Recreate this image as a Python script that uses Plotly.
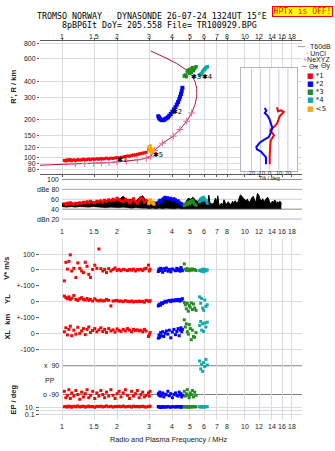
import math
import plotly.graph_objects as go

# ---------------- data ----------------
freq_ticks = [1, 1.5, 2, 3, 4, 5, 6, 7, 8, 10, 12, 14, 16, 18]
freq_labels = ["1", "1.5", "2", "3", "4", "5", "6", "7", "8", "10", "12", "14", "16", "18"]
height_ticks = [80, 90, 100, 120, 150, 200, 300, 400, 600, 800]

# NeXYZ plasma-frequency profile (MHz, km)
ne_f = [0.758, 1.0, 1.182, 1.331, 1.490, 1.640, 1.806, 1.998, 2.246, 2.579, 2.888, 3.052, 3.21,
        3.55, 4.058, 4.413, 4.801, 5.113, 5.332, 5.447, 5.45, 5.447, 5.332, 5.113, 4.801, 4.234, 3.654, 3.052]
ne_h = [87.0, 89.0, 89.3, 89.8, 90.2, 90.9, 91.4, 92.6, 93.6, 95.9, 98.7, 101.8, 114.0,
        130.0, 147.7, 166.4, 193.5, 224.7, 260.9, 303.4, 327.0, 352.3, 397.5, 447.4, 489.7, 552.3, 615.2, 694.0]
ne_marked = slice(2, 18)

# echo *1 (red)
red_f = [1.03, 1.05, 1.07, 1.09, 1.11, 1.13, 1.16, 1.19, 1.22, 1.25,
         1.28, 1.31, 1.34, 1.37, 1.40, 1.43, 1.47, 1.51, 1.55, 1.59,
         1.63, 1.67, 1.71, 1.75, 1.80, 1.85, 1.90, 1.95, 2.00, 2.05,
         2.10, 2.16, 2.22, 2.28, 2.34, 2.40, 2.46, 2.52, 2.58, 2.64,
         2.70, 2.76, 2.82, 2.88, 2.97, 3.00, 3.03]
red_h = [95, 94, 96, 95, 96.5, 94.5, 96, 95, 96.5, 95.5,
         96, 97, 96, 96.5, 97.5, 96, 97.5, 97, 98, 97,
         98.5, 97.5, 98, 99, 98, 99, 98.5, 99.5, 100, 99,
         100.5, 101, 102, 103, 102.5, 104, 105, 104.5, 106, 107,
         107.5, 108.5, 109, 110, 116, 121, 118]
red_amp = [51, 49, 52, 50, 53, 51, 50, 52, 51, 53,
           52, 54, 53, 55, 53, 56, 54, 53, 56, 55,
           57, 54, 58, 56, 59, 57, 60, 58, 62, 59,
           57, 55, 60, 58, 53, 57, 61, 55, 52, 58,
           63, 60, 54, 58, 55, 52, 56]
red_vs = [-69, 48, 5, 54, 95, -7, 10, -48, 44, 10,
          -7, -17, 48, 23, -28, -48, 3, 30, 10, 132,
          8, -7, 3, -17, 8, -7, 3, 12, -3, 3,
          -5, 4, 0, -4, 3, -2, 5, -7, 2, 0,
          4, -3, 6, 10, 30, -7, 5]
red_yl = [35, 25, 18, 30, 14, 22, 39, 14, 8, 18,
          25, 14, 10, 20, 8, 14, 4, 18, 8, 4,
          10, 4, 6, 14, 8, -27, 4, 6, 8, 2,
          4, 0, 6, 2, 0, 4, -2, 2, 0, 4,
          0, 2, -4, 8, 4, 0, 6]
red_xl = [10, 35, -10, 25, 45, -15, 20, -5, 38, 0,
          15, 30, -8, 25, 40, 5, 18, 30, 10, 22,
          35, 12, 25, 5, 30, 15, 22, 8, 28, 18,
          12, 25, 15, 30, 20, 10, 25, 18, 22, 15,
          20, 10, 25, 15, -20, -10, 5]
red_pp = [-70, -110, -95, -60, -115, -80, -100, -65, -90, -120,
          -75, -105, -85, -60, -110, -95, -70, -115, -80, -100,
          -65, -90, -110, -75, -100, -60, -95, -115, -85, -70,
          -105, -80, -60, -95, -115, -70, -100, -85, -65, -110,
          -90, -75, -105, -95, -80, -100, -70]
red_ep = [12, 15, 10, 18, 14, 9, 16, 12, 20, 11,
          14, 17, 10, 13, 19, 12, 15, 9, 16, 13,
          18, 11, 14, 20, 12, 16, 10, 15, 13, 17,
          12, 19, 11, 14, 16, 10, 18, 13, 15, 11,
          14, 17, 12, 10, 15, 13, 18]

# echo *2 (blue)
blue_f = [3.36, 3.39, 3.42, 3.46, 3.50, 3.55, 3.60, 3.66, 3.72, 3.79, 3.86,
          3.93, 4.01, 4.09, 4.17, 4.24, 4.31, 4.37, 4.42, 4.47, 4.51, 4.55]
blue_h = [212, 207, 203, 200, 198, 197, 198, 201, 204, 208, 214,
          221, 230, 240, 250, 262, 274, 288, 302, 318, 334, 355]
blue_amp = [52, 55, 58, 56, 55, 60, 62, 64, 61, 63, 60,
            62, 58, 61, 59, 55, 57, 54, 52, 50, 51, 49]
blue_vs = [-10, 5, -5, 10, 0, -15, 8, -3, 12, -8, 3,
           -12, 6, 0, -5, 10, -3, 5, -8, 15, 2, -5]
blue_yl = [-27, -20, -15, -22, -8, -12, -5, 2, -3, 5, 8,
           0, 10, 4, 12, 6, 14, 8, 3, 15, 10, 18]
blue_xl = [-30, -10, -25, 5, -15, 10, -20, 0, 15, -5, 20,
           -28, 8, 25, -8, 12, 30, -15, 20, 35, 10, 25]
blue_pp = [-85, -95, -75, -100, -90, -80, -105, -88, -92, -70, -98,
           -85, -110, -90, -80, -95, -100, -75, -90, -85, -105, -95]
blue_ep = [14, 10, 12, 8, 11, 13, 9, 12, 10, 14, 11,
           9, 13, 12, 10, 15, 11, 13, 12, 9, 14, 11]

# echo *3 (green)
green_f = [4.66, 4.72, 4.78, 4.84, 4.90, 4.96, 5.02, 5.09, 5.16, 5.23, 5.31, 5.40]
green_h = [440, 448, 435, 476, 490, 462, 498, 470, 512, 485, 505, 521]
green_amp = [47, 50, 52, 49, 54, 51, 56, 53, 58, 55, 50, 48]
green_vs = [38, 5, -3, 8, 0, -5, 4, -2, 6, 0, 3, -4]
green_yl = [-5, -20, -45, -10, -60, -25, -35, -8, -50, -15, -40, -55]
green_xl = [85, 40, 60, 10, -5, 55, 30, -40, 20, -20, -25, 5]
green_pp = [-70, -100, -85, -60, -95, -110, -80, -90, -65, -105, -75, -95]
green_ep = [12, 10, 14, 11, 9, 13, 12, 10, 15, 11, 13, 12]

# echo *4 (teal)
teal_f = [5.65, 5.73, 5.80, 5.87, 5.95, 6.03, 6.12, 6.22]
teal_h = [446, 453, 461, 476, 490, 499, 511, 521]
teal_amp = [55, 60, 62, 58, 64, 60, 57, 52]
teal_vs = [-5, 0, -8, 5, -12, 3, -6, 0]
teal_yl = [30, -10, 20, -40, -55, 10, -30, -20]
teal_xl = [50, 75, 20, 60, 12, 65, 40, 70]
teal_pp = [120, 70, 100, 55, 110, 85, 130, 95]
teal_ep = [13, 9, 15, 11, 12, 10, 14, 12]

# echo <5 (orange)
orange_f = [2.98, 3.00, 3.02, 3.04, 3.06, 3.09, 3.12, 3.15, 3.18]
orange_h = [116, 121, 113, 124, 118, 110, 115, 111, 112]
orange_amp = [51, 54, 57, 59, 56, 55, 53, 52, 50]

# receiver amplitude envelope (black)
amp_f = [1.00, 1.06, 1.12, 1.18, 1.25, 1.32, 1.40, 1.48, 1.56, 1.65,
         1.74, 1.84, 1.94, 2.05, 2.16, 2.28, 2.40, 2.52, 2.64, 2.76,
         2.88, 3.00, 3.12, 3.25, 3.40, 3.55, 3.70, 3.85, 4.00, 4.15,
         4.30, 4.45, 4.60, 4.75, 4.90, 5.05, 5.20, 5.35, 5.50, 5.65,
         5.80, 5.95, 6.10, 6.25, 6.35, 6.42, 6.50, 6.60, 6.70, 6.80,
         6.90, 7.00, 7.10, 7.20, 7.30, 7.42, 7.55, 7.68, 7.80, 7.95,
         8.10, 8.25, 8.40, 8.55, 8.70, 8.85, 9.00, 9.15, 9.30, 9.45,
         9.60, 9.75, 9.90, 10.1, 10.3, 10.5, 10.7, 10.9, 11.1, 11.3,
         11.5, 11.7, 11.9, 12.1, 12.3, 12.5, 12.7, 12.9, 13.1, 13.3,
         13.5, 13.7, 13.9, 14.1, 14.3, 14.5, 14.7, 14.9, 15.1, 15.3,
         15.5, 15.7, 15.8]
amp_top = [52, 50, 53, 51, 54, 52, 55, 53, 54, 56,
           55, 57, 56, 59, 66, 58, 60, 55, 63, 67,
           57, 52, 55, 54, 56, 60, 62, 58, 61, 57,
           56, 50, 47, 55, 62, 60, 64, 58, 56, 60,
           64, 62, 60, 50, 68, 55, 49, 52, 47, 56,
           62, 54, 67, 50, 47, 52, 48, 59, 53, 50,
           55, 51, 49, 56, 53, 57, 52, 55, 62, 69,
           66, 63, 61, 57, 60, 54, 56, 63, 66, 58,
           55, 72, 68, 60, 57, 61, 55, 58, 63, 64,
           59, 52, 51, 56, 53, 58, 57, 50, 55, 52,
           56, 54, 50]
amp_bot = [45, 44, 45, 44, 45, 44, 44, 45, 44, 44,
           43, 44, 43, 43, 44, 43, 42, 43, 42, 42,
           42, 41, 42, 41, 42, 41, 42, 41, 41, 41,
           42, 41, 41, 40, 41, 40, 41, 40, 41, 40,
           41, 40, 41, 41, 40, 41, 40, 41, 40, 41,
           41, 40, 41, 40, 41, 40, 41, 41, 40, 41,
           40, 41, 41, 40, 41, 40, 41, 40, 41, 41,
           40, 41, 40, 41, 40, 41, 41, 40, 41, 40,
           41, 40, 41, 41, 40, 41, 40, 41, 40, 41,
           41, 40, 41, 40, 41, 40, 41, 41, 40, 41,
           40, 41, 41]

# tilt inset
tilt_red_t = [8.0, 9.1, 12.7, 15.4, 11.0, 9.9, 8.4, 6.2, 3.6, 1.1, 0.7, 2.9, 4.7, 3.3, 1.1, 0.7, 0.3, 0.0, 0.0]
tilt_red_v = [62, 58.1, 59, 57.4, 53.2, 50, 46.8, 44.1, 41.9, 40.3, 38.7, 37.1, 34.8, 32.2, 29.6, 25.8, 20.9, 14.5, 6.4]
tilt_blue_t = [-5.5, -3.7, -5.5, -2.6, 0, 1.8, 2.9, 1.1, -1.1, -5.5, -11, -14.7, -14, -9.6, -6.6, -4.1, -4.1, -4.1]
tilt_blue_v = [61.3, 58.7, 56.4, 54.2, 50, 45.1, 41.9, 37.1, 32.9, 30.6, 27.4, 23.2, 20.9, 18.7, 16.1, 13.2, 9.3, 6.4]
tilt_ticks = [-20, -10, 0, 10, 20]
tilt_range = [-31.2, 30]
tilt_vrange = [0, 100]

# echo labels (frequency MHz, height km, text)
echo_labels = [(2.02, 96, "1"), (4.04, 229, "2"), (5.13, 429, "3"), (5.89, 429, "4"), (3.18, 105.5, "5")]

amp_lines = [100, 80, 60, 40, 20]
amp_line_labels = ["100", "dBe 80", "60", "40", "dBn 20"]

# ---------------- layout helpers ----------------
W, H = 335, 451
def px(x): return x / W
def py(y): return 1 - y / H

FR = [math.log10(0.758), math.log10(20.5)]
XD = [px(40), px(302)]
def fpaper(f):
    return XD[0] + (math.log10(f) - FR[0]) / (FR[1] - FR[0]) * (XD[1] - XD[0])

RED, BLUE, GREEN, TEAL, ORANGE = "#ff0000", "#0000ff", "#228b22", "#10a8a8", "#ffa500"
FRAME = "#5c5c5c"
GRID = "#dadae2"
SANS = "Liberation Sans, Arial, sans-serif"
TICKF = dict(family=SANS, size=7, color="#222222")

fig = go.Figure()

def sq(x, y, col, xa, ya, size=3):
    fig.add_trace(go.Scatter(x=x, y=y, mode="markers", xaxis=xa, yaxis=ya, cliponaxis=False,
                             marker=dict(symbol="square", size=size, color=col, line=dict(width=0)),
                             hoverinfo="skip"))

# ---- height panel (x, y2)
fig.add_trace(go.Scatter(x=ne_f, y=ne_h, mode="lines", xaxis="x", yaxis="y2",
                         line=dict(color="#b0183c", width=1), hoverinfo="skip"))
fig.add_trace(go.Scatter(x=ne_f[ne_marked], y=ne_h[ne_marked], mode="markers", xaxis="x", yaxis="y2",
                         marker=dict(symbol="cross-thin", size=5, line=dict(width=1, color="#e36a98")),
                         hoverinfo="skip"))
sq(red_f, red_h, RED, "x", "y2", 3)
sq(orange_f, orange_h, ORANGE, "x", "y2", 3)
sq(blue_f, blue_h, BLUE, "x", "y2", 4)
sq(green_f, green_h, GREEN, "x", "y2", 3.5)
sq(teal_f, teal_h, TEAL, "x", "y2", 3.5)

# ---- amplitude panel (x2, y3)
fig.add_trace(go.Scatter(x=amp_f, y=amp_bot, mode="lines", xaxis="x2", yaxis="y3",
                         line=dict(color="black", width=0.5), hoverinfo="skip"))
fig.add_trace(go.Scatter(x=amp_f, y=amp_top, mode="lines", xaxis="x2", yaxis="y3", fill="tonexty",
                         fillcolor="black", line=dict(color="black", width=1), hoverinfo="skip"))
for f, a, c in [(red_f, red_amp, RED), (orange_f, orange_amp, ORANGE), (blue_f, blue_amp, BLUE),
                (green_f, green_amp, GREEN), (teal_f, teal_amp, TEAL)]:
    fig.add_trace(go.Scatter(x=f, y=a, mode="lines+markers", xaxis="x2", yaxis="y3",
                             line=dict(color=c, width=1.5),
                             marker=dict(symbol="square", size=3, color=c), hoverinfo="skip"))

# ---- lower panel (x3, y5..y9)
for f, vs, yl, xl, pp, ep, c in [
        (red_f, red_vs, red_yl, red_xl, red_pp, red_ep, RED),
        (blue_f, blue_vs, blue_yl, blue_xl, blue_pp, blue_ep, BLUE),
        (green_f, green_vs, green_yl, green_xl, green_pp, green_ep, GREEN),
        (teal_f, teal_vs, teal_yl, teal_xl, teal_pp, teal_ep, TEAL)]:
    sq(f, vs, c, "x3", "y5")
    sq(f, yl, c, "x3", "y6")
    sq(f, xl, c, "x3", "y7")
    sq(f, pp, c, "x3", "y8")
    sq(f, ep, c, "x3", "y9")

# ---- tilt inset (x4, y10): white background, own grid, curves
fig.add_trace(go.Scatter(x=[tilt_range[0], tilt_range[1], tilt_range[1], tilt_range[0], tilt_range[0]],
                         y=[tilt_vrange[0], tilt_vrange[0], tilt_vrange[1], tilt_vrange[1], tilt_vrange[0]],
                         mode="lines", fill="toself", fillcolor="white", line=dict(width=0),
                         xaxis="x4", yaxis="y10", hoverinfo="skip"))
gx, gy = [], []
for t in tilt_ticks:
    gx += [t, t, None]
    gy += [tilt_vrange[0], tilt_vrange[1], None]
fig.add_trace(go.Scatter(x=gx, y=gy, mode="lines", line=dict(color="#c8c8dc", width=1),
                         xaxis="x4", yaxis="y10", hoverinfo="skip"))
fig.add_trace(go.Scatter(x=tilt_red_t, y=tilt_red_v, mode="lines", xaxis="x4", yaxis="y10",
                         line=dict(color=RED, width=2), hoverinfo="skip"))
fig.add_trace(go.Scatter(x=tilt_blue_t, y=tilt_blue_v, mode="lines", xaxis="x4", yaxis="y10",
                         line=dict(color=BLUE, width=2), hoverinfo="skip"))

# ---------------- axes ----------------
def xax(anchor, side, showgrid, ticks=True, line=False):
    return dict(domain=XD, type="log", range=FR, anchor=anchor, side=side,
                tickvals=freq_ticks, showticklabels=False,
                ticks="outside" if ticks else "", ticklen=2, tickcolor=FRAME,
                showgrid=showgrid, gridcolor=GRID, gridwidth=1, zeroline=False,
                showline=line, mirror=line, linecolor=FRAME, linewidth=1)

def strip(top, bot, rng, tv, tt, typ="linear"):
    return dict(domain=[py(bot), py(top)], range=rng, type=typ, anchor="x3",
                tickvals=tv, ticktext=tt, ticks="outside" if tv else "", ticklen=3, tickcolor=FRAME,
                showgrid=True, gridcolor=GRID, zeroline=False, showline=False, tickfont=TICKF)

K = 0.16  # px per unit for V*, YL, XL strips
PPK = 29 / 180.0
layout = dict(
    width=W, height=H, margin=dict(l=0, r=0, t=0, b=0),
    paper_bgcolor="white", plot_bgcolor="rgba(0,0,0,0)", showlegend=False,
    xaxis=xax("y", "top", True, True, True),
    yaxis=dict(domain=[py(222), py(37)], range=[0, 1], anchor="x", showgrid=False, showticklabels=False,
               ticks="", zeroline=False, showline=True, mirror=True, linecolor=FRAME),
    yaxis2=dict(domain=[py(172), py(37)], type="log", range=[math.log10(73.6), math.log10(836)], anchor="x",
                tickvals=height_ticks, ticktext=[str(v) for v in height_ticks], ticks="outside", ticklen=2,
                tickcolor=FRAME, showgrid=True, gridcolor=GRID, zeroline=False, showline=False, tickfont=TICKF),
    xaxis2=xax("y3", "bottom", False, False, False),
    yaxis3=dict(domain=[py(222), py(172)], range=[10, 110], anchor="x2", showgrid=False,
                showticklabels=False, ticks="", zeroline=False, showline=False),
    xaxis3=xax("y4", "bottom", True, True, True),
    yaxis4=dict(domain=[py(420), py(237)], range=[0, 1], anchor="x3", showgrid=False, showticklabels=False,
                ticks="", zeroline=False, showline=True, mirror=True, linecolor=FRAME),
    yaxis5=strip(237, 284.3, [-(284.3 - 268.3) / K, (268.3 - 237) / K], [100, 0], ["100", "0"]),
    yaxis6=strip(284.3, 316.3, [-100, 100], [100, 0], ["+-100", "0"]),
    yaxis7=strip(316.3, 356, [-(356 - 332.3) / K, 100], [100, 0, -100], ["+-100", "0", "-100"]),
    yaxis8=dict(strip(356, 400, [-90 - (400 - 394) / PPK, 90 + (365 - 356) / PPK], [], []), showgrid=False),
    yaxis9=strip(400, 420, [-1 - 5.7 / 3.8, 1 + 6.7 / 3.8], [10, 1, 0.1], ["10.", "", "0.1"], "log"),
    xaxis4=dict(domain=[px(241.3), px(297)], range=tilt_range, anchor="y10", showticklabels=False,
                ticks="", showgrid=False, zeroline=False, showline=True, mirror=True, linecolor="#b4b4d0"),
    yaxis10=dict(domain=[py(168.3), py(65)], range=tilt_vrange, anchor="x4", showgrid=False,
                 showticklabels=False, ticks="", zeroline=False, showline=True, mirror=True,
                 linecolor="#b4b4d0"),
)
fig.update_layout(**layout)

# ---------------- shapes ----------------
shapes = []
amp_cols = ["#8c8c8c", "#a8a8a8", "#d0d0d0", "#8c8c8c", "#b4b4e6"]
for v, c in zip(amp_lines, amp_cols):
    shapes.append(dict(type="line", xref="paper", yref="y3", x0=fpaper(1), x1=XD[1], y0=v, y1=v,
                       line=dict(color=c, width=1), layer="below"))
for v in [90, -90]:
    shapes.append(dict(type="line", xref="paper", yref="y8", x0=fpaper(1), x1=XD[1], y0=v, y1=v,
                       line=dict(color="#808080", width=1), layer="below"))
shapes += [
    dict(type="line", xref="paper", yref="paper", x0=px(298), x1=px(305), y0=py(43), y1=py(43),
         line=dict(color="#a0a0a0", width=1)),
    dict(type="line", xref="paper", yref="paper", x0=px(302), x1=px(306.5), y0=py(63), y1=py(63),
         line=dict(color="#e36a98", width=1)),
    dict(type="line", xref="paper", yref="paper", x0=px(313.5), x1=px(318), y0=py(63), y1=py(63),
         line=dict(color="#6a6ae0", width=1)),
]
fig.update_layout(shapes=shapes)

# ---------------- annotations ----------------
ann = []
MONO = "DejaVu Sans Mono, monospace"
ann.append(dict(text="TROMSO NORWAY   DYNASONDE 26-07-24 1324UT 15°E", x=px(35), y=py(12.3),
                xanchor="left", yanchor="middle", font=dict(family=MONO, size=8.3, color="black")))
ann.append(dict(text="8pBP6It DoY= 205.558 File= TR100929.BPG", x=px(60), y=py(20.7),
                xanchor="left", yanchor="middle", font=dict(family=MONO, size=8.3, color="black")))
ann.append(dict(text="HPTx is OFF!", x=px(302.5), y=py(7.3), xanchor="center", yanchor="middle",
                width=59, height=9, bgcolor="#ffff00", bordercolor="#ff0000", borderwidth=1, borderpad=0,
                font=dict(family=MONO, size=8, color="#ff0000")))
# frequency tick labels (top, amplitude bottom, lower bottom), placed via the shared log scale
for ypix in [32.5, 230, 426]:
    for f, t in zip(freq_ticks, freq_labels):
        ann.append(dict(text=t, x=fpaper(f), y=py(ypix), xanchor="center", yanchor="middle", font=TICKF))
# inset tick labels and title
for t in tilt_ticks:
    ann.append(dict(text=str(t), xref="x4", x=t, y=py(171), xanchor="center", yanchor="middle",
                    font=dict(family=SANS, size=5.5, color="#222")))
ann.append(dict(text="Tilt / deg", xref="x4", x=0, y=py(176), xanchor="center", yanchor="middle",
                font=dict(family=SANS, size=5.5, color="#222")))
LEGF = dict(family=SANS, size=7, color="#222")
ann += [
    dict(text="T60dB", x=px(308), y=py(43), xanchor="left", yanchor="middle", font=LEGF),
    dict(text="<span style='color:#333'>·</span> UnCl", x=px(304), y=py(49.5), xanchor="left", yanchor="middle", font=LEGF),
    dict(text="<span style='color:#e36a98'>+</span>NeXYZ", x=px(301), y=py(56.5), xanchor="left", yanchor="middle", font=LEGF),
    dict(text="Θx", x=px(306.5), y=py(63), xanchor="left", yanchor="middle", font=LEGF),
    dict(text="Θy", x=px(318.5), y=py(63), xanchor="left", yanchor="middle", font=LEGF),
]
for i, (c, t) in enumerate([(RED, "*1"), (BLUE, "*2"), (GREEN, "*3"), (TEAL, "*4"), (ORANGE, "<5")]):
    yy = [72.5, 80.5, 89, 97, 105.5][i]
    ann.append(dict(text=f"<span style='color:{c}'>■</span> {t}", x=px(305), y=py(yy), xanchor="left",
                    yanchor="middle", font=dict(family="DejaVu Sans, sans-serif", size=7, color="#222")))
for f, h, t in echo_labels:
    ann.append(dict(text="✱" + t, xref="x", yref="y2", x=math.log10(f), y=math.log10(h), xanchor="left",
                    yanchor="middle", xshift=-3, showarrow=False,
                    font=dict(family="DejaVu Sans, sans-serif", size=7, color="black")))
for v, t in zip(amp_lines, amp_line_labels):
    ann.append(dict(text=t, x=fpaper(1), yref="y3", y=v, xanchor="right", yanchor="middle", xshift=-1,
                    font=TICKF))
ann.append(dict(text="x  90", x=fpaper(1), yref="y8", y=90, xanchor="right", yanchor="middle", xshift=-1, font=TICKF))
ann.append(dict(text="o -90", x=fpaper(1), yref="y8", y=-90, xanchor="right", yanchor="middle", xshift=-1, font=TICKF))
ann.append(dict(text="PP", x=px(43), y=py(380), xanchor="left", yanchor="middle", font=TICKF))
BOLD = dict(family=SANS, size=7.5, color="#222")
for t, x, y in [("<b>R', R / km</b>", 13.5, 84), ("<b>V* m/s</b>", 7, 267), ("<b>YL</b>", 7.5, 298),
                ("<b>km</b>", 7.5, 318), ("<b>XL</b>", 7.5, 334), ("<b>EP / deg</b>", 13, 399)]:
    ann.append(dict(text=t, x=px(x), y=py(y), xanchor="center", yanchor="middle", textangle=-90, font=BOLD))
ann.append(dict(text="Radio and Plasma Frequency / MHz", x=px(169.5), y=py(439), xanchor="center",
                yanchor="middle", font=dict(family=SANS, size=7.3, color="#222")))
for a in ann:
    a.setdefault("xref", "paper")
    a.setdefault("yref", "paper")
    a.setdefault("showarrow", False)
fig.update_layout(annotations=ann)

fig.write_html("out.html")
